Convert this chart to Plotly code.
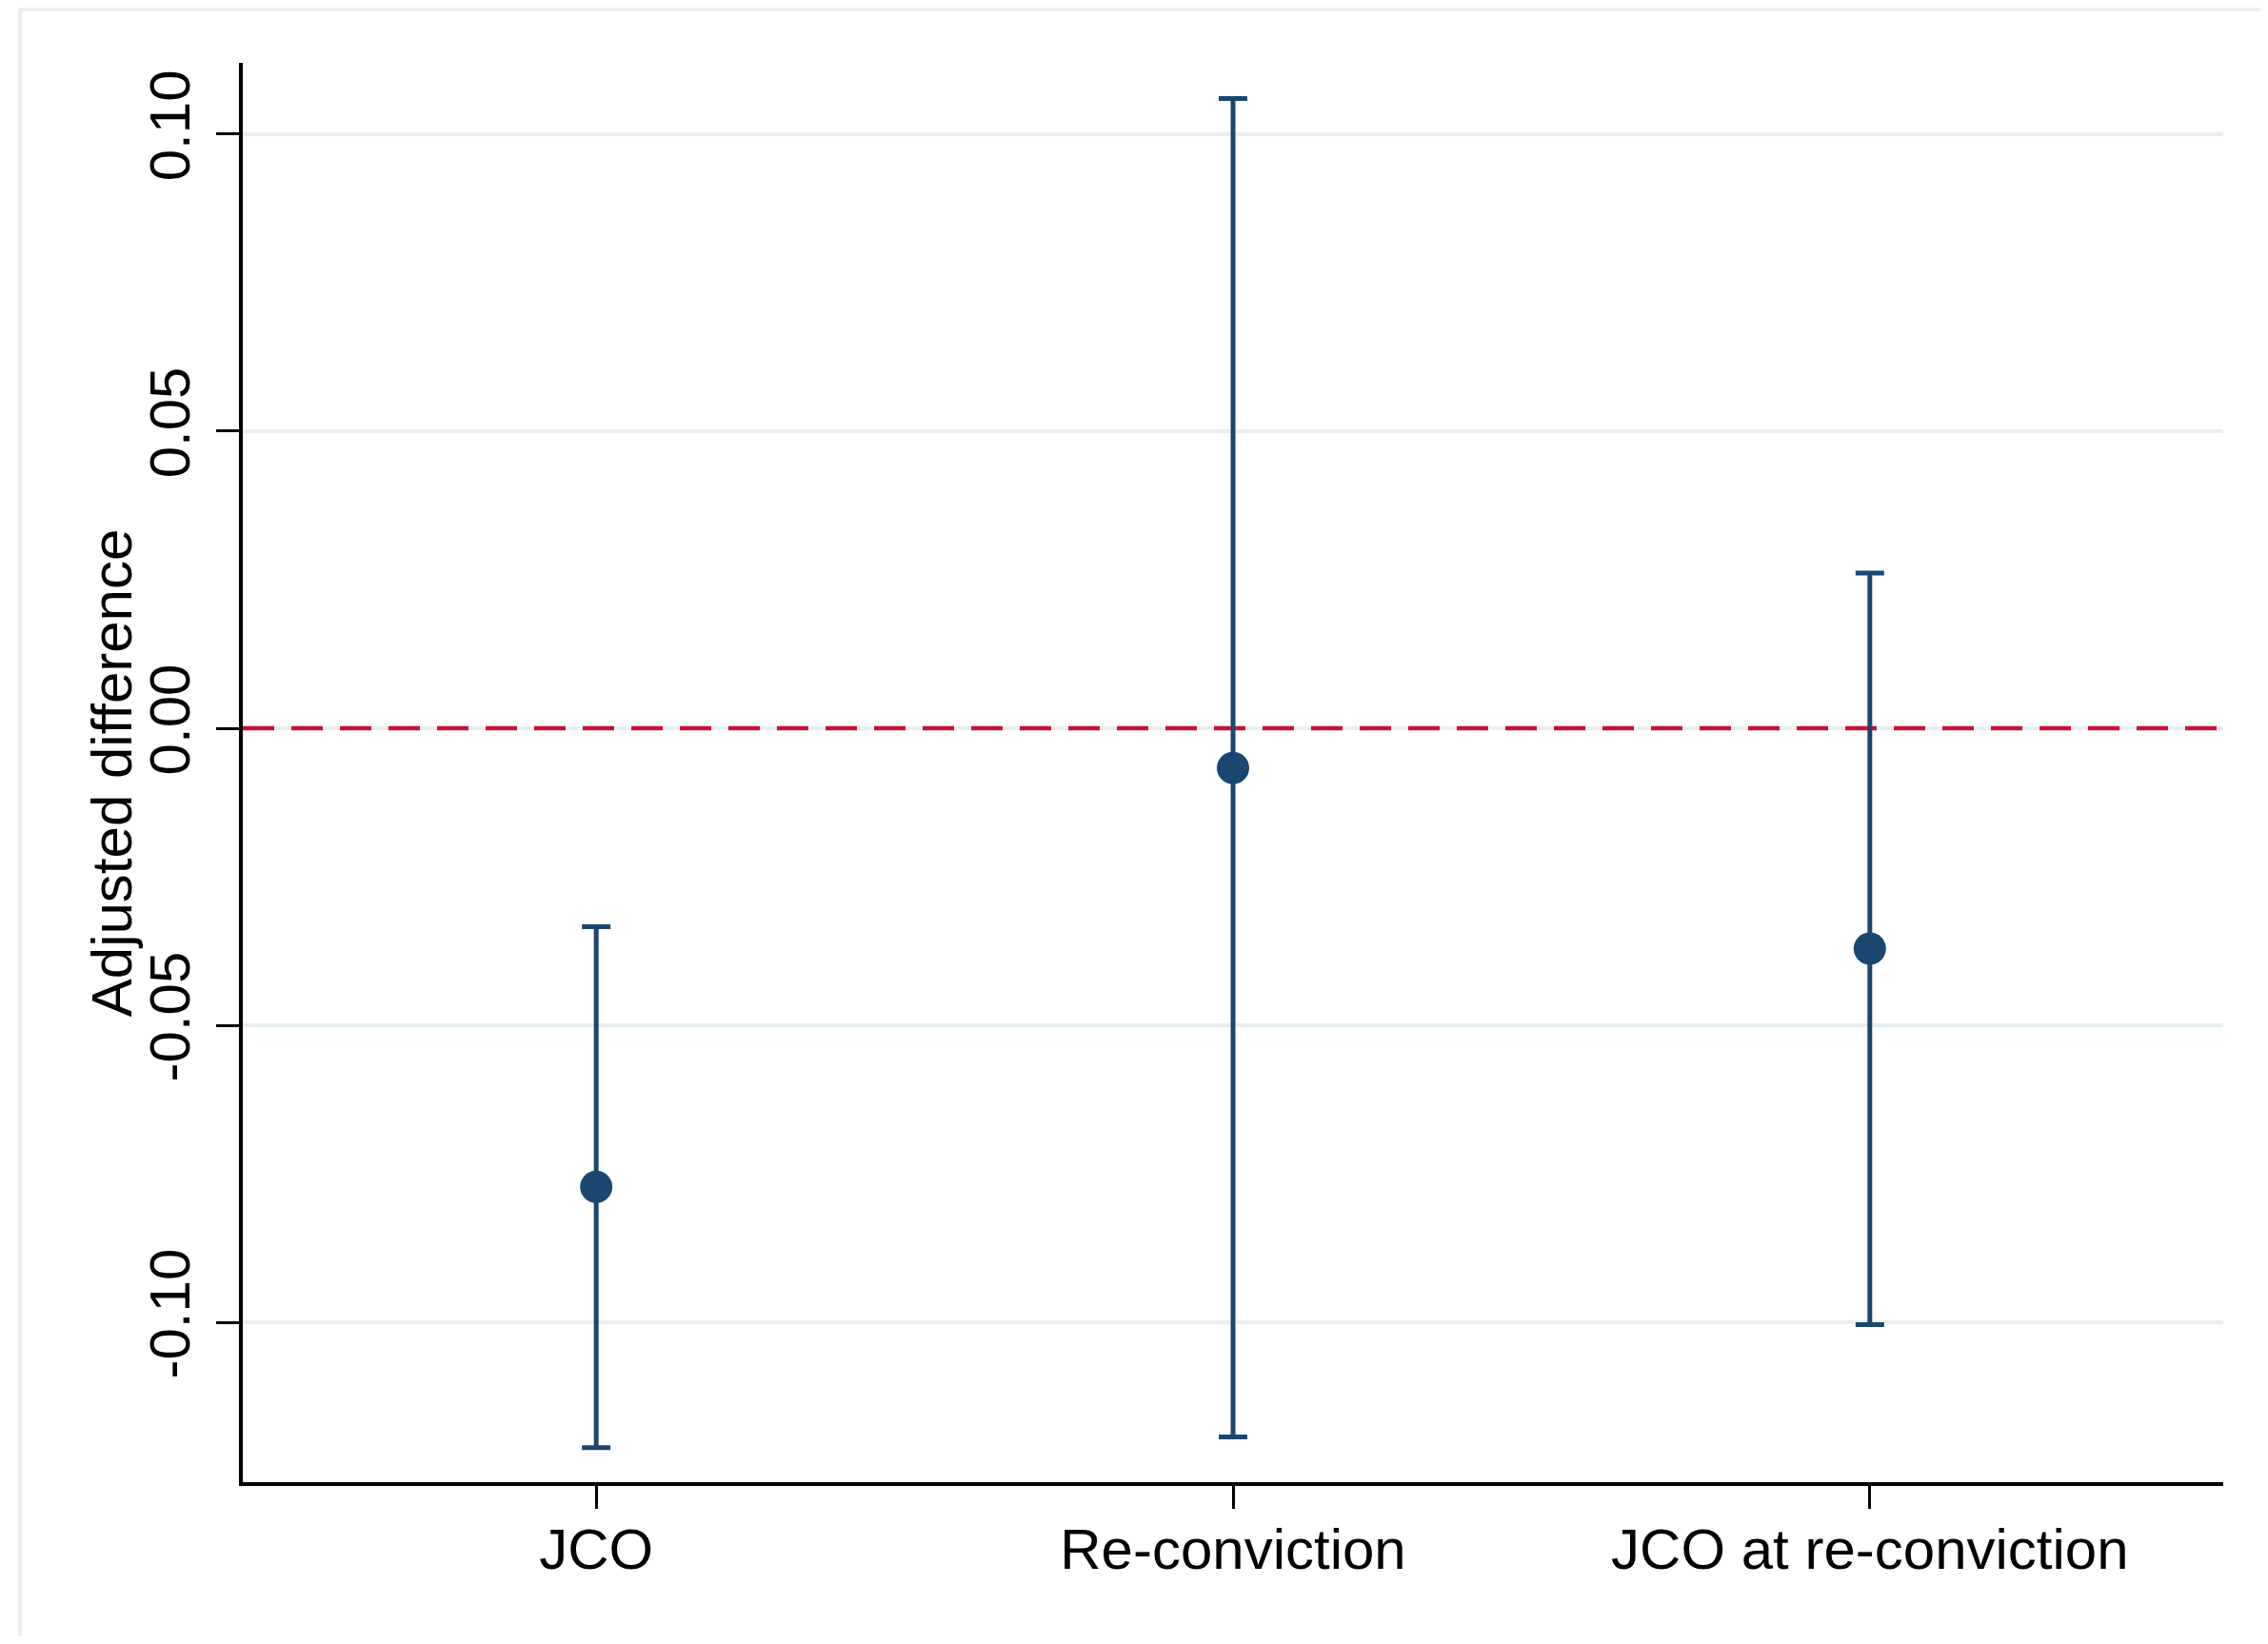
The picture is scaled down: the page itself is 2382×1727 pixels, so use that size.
import plotly.graph_objects as go

# Data
categories = ["JCO", "Re-conviction", "JCO at re-conviction"]
estimates = [-0.0772, -0.0067, -0.0371]
ci_lower = [-0.1211, -0.1193, -0.1004]
ci_upper = [-0.0334, 0.1060, 0.0261]
y_tickvals = [-0.10, -0.05, 0.00, 0.05, 0.10]
y_ticktext = ["-0.10", "-0.05", "0.00", "0.05", "0.10"]
y_title = "Adjusted difference"
reference_value = 0.0

X_RANGE = [-0.555, 2.555]
Y_RANGE = [-0.1269, 0.1120]

NAVY = "#1a476f"
RED = "#c8103a"
GRID = "#e8eff1"
FONT = "Liberation Sans, Arial, Helvetica, sans-serif"

xpos = list(range(len(categories)))
err_plus = [u - e for u, e in zip(ci_upper, estimates)]
err_minus = [e - l for e, l in zip(estimates, ci_lower)]

fig = go.Figure()
# reference line at zero (drawn under the estimates, above the grid)
fig.add_trace(go.Scatter(
    x=X_RANGE, y=[reference_value] * len(X_RANGE), mode="lines",
    line=dict(color=RED, width=4.5, dash="33px,18px"),
    showlegend=False, hoverinfo="skip", cliponaxis=True,
))
fig.add_trace(go.Scatter(
    x=xpos, y=estimates, mode="markers",
    marker=dict(color=NAVY, size=34, line=dict(width=0)),
    error_y=dict(type="data", symmetric=False, array=err_plus, arrayminus=err_minus,
                 color=NAVY, thickness=5, width=15),
    showlegend=False, hoverinfo="skip",
))

# outer light frame (partially visible in the reference)
fig.add_shape(type="rect", xref="paper", yref="paper",
              x0=-0.1125, x1=1.3, y0=-0.3, y1=1.0376,
              line=dict(color=GRID, width=4), fillcolor="rgba(0,0,0,0)", layer="below")

fig.add_annotation(text=y_title, xref="paper", yref="paper", x=-0.066, y=0.5,
                   xanchor="center", yanchor="middle", textangle=-90, showarrow=False,
                   font=dict(family=FONT, size=60, color="black"))

fig.update_layout(
    width=2366, height=1711,
    margin=dict(l=247, r=39, t=58, b=162, autoexpand=False),
    paper_bgcolor="white", plot_bgcolor="rgba(0,0,0,0)",
    font=dict(family=FONT, size=60, color="black"),
    xaxis=dict(
        range=X_RANGE, tickvals=xpos, ticktext=categories,
        showgrid=False, zeroline=False, showline=True, linecolor="black", linewidth=3.5,
        ticks="outside", ticklen=24, tickwidth=3, tickcolor="black",
        ticklabelstandoff=-9,
        tickfont=dict(family=FONT, size=60, color="black"),
    ),
    yaxis=dict(
        range=Y_RANGE, tickvals=y_tickvals, ticktext=y_ticktext,
        tickangle=-90,
        showgrid=True, gridcolor=GRID, gridwidth=4, zeroline=False,
        showline=True, linecolor="black", linewidth=3.5,
        ticks="outside", ticklen=24, tickwidth=3, tickcolor="black",
        ticklabelstandoff=4,
        tickfont=dict(family=FONT, size=60, color="black"),
    ),
)

fig.write_html("out.html")
